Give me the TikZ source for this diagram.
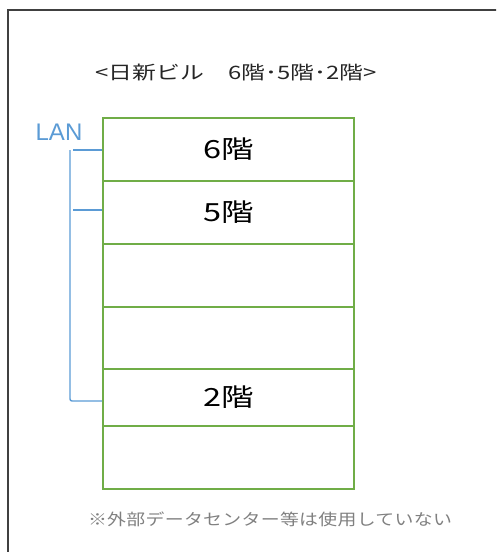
\documentclass[tikz,border=0pt]{standalone}
\usepackage{fontspec}
\setmainfont{Noto Sans CJK JP}
\newfontfamily\titlefont[FakeStretch=1.29]{Noto Sans CJK JP}
\newfontfamily\floorfont[FakeStretch=1.3]{Noto Sans CJK JP}
\newfontfamily\notefont[FakeStretch=1.18,LetterSpace=2]{Noto Sans CJK JP}
\newfontfamily\lanfont{Liberation Sans}
\definecolor{frameC}{HTML}{404040}
\definecolor{floorC}{HTML}{70AD47}
\definecolor{lanC}{HTML}{5B9BD5}
\definecolor{noteC}{HTML}{808080}
\tikzset{
  floorbox/.style={draw=floorC, line width=1.6pt, minimum width=251pt, inner sep=0pt, font=\floorfont\fontsize{25}{27}\selectfont},
  lanline/.style={draw=lanC, line width=1.4pt},
}
\begin{document}
\begin{tikzpicture}[x=1pt,y=-1pt]
\useasboundingbox (0,0) rectangle (496,552);
\clip (0,0) rectangle (496,552);
\draw[frameC, line width=1.8pt] (8,10) rectangle (520,580);
\node[font=\titlefont\fontsize{18.5}{21}\selectfont, text=black!85] (title) at (236,73) {<日新ビル　6階･5階･2階>};
\node[floorbox, minimum height=63pt, anchor=north west] (f6) at (102,117) {6階};
\node[floorbox, minimum height=63pt, anchor=north west] (f5) at (102,180) {5階};
\node[floorbox, minimum height=63pt, anchor=north west] (f4) at (102,243) {};
\node[floorbox, minimum height=62pt, anchor=north west] (f3) at (102,306) {};
\node[floorbox, minimum height=57pt, anchor=north west] (f2) at (102,368) {2階};
\node[floorbox, minimum height=63pt, anchor=north west] (f1) at (102,425) {};
\node[font=\lanfont\fontsize{24}{25}\selectfont, text=lanC] (lan) at (59,132) {LAN};
\coordinate (v6) at (73,150);
\coordinate (v5) at (73,210);
\coordinate (vtop) at (70,150);
\coordinate (p6) at (102,150);
\coordinate (p5) at (102,210);
\coordinate (p2) at (102,401);
\draw[lanline] (v6) -- (p6);
\draw[lanline] (v5) -- (p5);
\draw[lanline, rounded corners=2pt] (vtop) |- (p2);
\node[font=\notefont\fontsize{16}{18}\selectfont, text=noteC] (note) at (270,519) {※外部データセンター等は使用していない};
\end{tikzpicture}
\end{document}
